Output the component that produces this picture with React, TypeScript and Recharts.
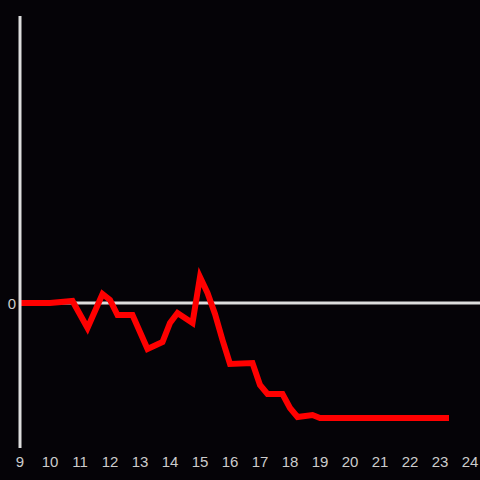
import React from "react";
import { LineChart, Line, XAxis, YAxis, ReferenceLine } from "recharts";

const hours = [9, 10, 10.75, 11.25, 11.75, 12, 12.25, 12.75, 13.25, 13.75, 14, 14.25, 14.75, 15, 15.25, 15.5, 15.75, 16, 16.75, 17, 17.25, 17.75, 18, 18.25, 18.75, 19, 23.3];
const values = [0, 0, 2, -25, 9, 3, -12, -12, -46, -39, -20, -10, -20, 26, 10, -11, -37, -61, -60, -82, -91, -91, -105, -114, -112, -115, -115];
const xTicks = [9, 10, 11, 12, 13, 14, 15, 16, 17, 18, 19, 20, 21, 22, 23, 24];
const yTicks = [0];

const data = hours.map((h, i) => ({ h, v: values[i] }));

export default function App() {
  return (
    <div
      style={{
        position: "fixed",
        left: 0,
        top: 0,
        width: 480,
        height: 480,
        background: "#050307",
        fontFamily: "'Liberation Sans', Arial, sans-serif",
      }}
    >
      <LineChart
        width={480}
        height={480}
        data={data}
        margin={{ top: 16, right: 0, left: 0, bottom: 0 }}
      >
        <XAxis
          dataKey="h"
          type="number"
          domain={[9, 73 / 3]}
          ticks={xTicks}
          axisLine={false}
          tickLine={false}
          height={32}
          tickMargin={2}
          tick={{ fill: "#cccccc", fontSize: 15 }}
          allowDataOverflow
        />
        <YAxis
          type="number"
          domain={[-145, 287]}
          ticks={yTicks}
          width={20}
          axisLine={{ stroke: "#dddddd", strokeWidth: 3 }}
          tickLine={false}
          tickSize={0}
          tickMargin={4}
          tick={{ fill: "#cccccc", fontSize: 15, dy: 1 }}
          allowDataOverflow
        />
        <ReferenceLine y={0} stroke="#dddddd" strokeWidth={3} />
        <Line
          dataKey="v"
          type="linear"
          stroke="#ff0000"
          strokeWidth={6}
          dot={false}
          isAnimationActive={false}
        />
      </LineChart>
    </div>
  );
}
